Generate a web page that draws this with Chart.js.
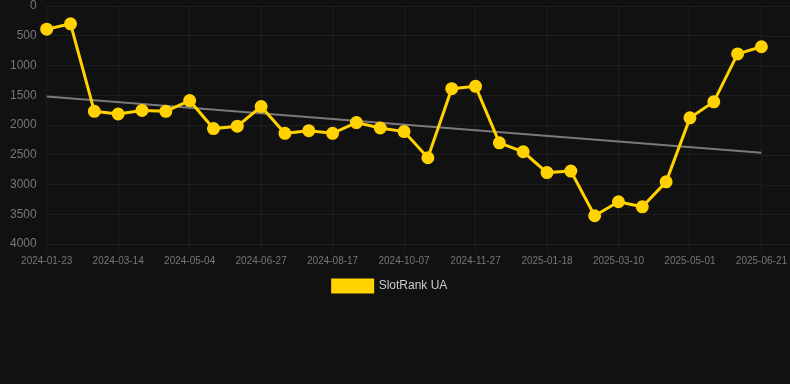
<!DOCTYPE html>
<html>
<head>
<meta charset="utf-8">
<script src="https://cdn.jsdelivr.net/npm/chart.js@4"></script>
<style>
  html, body { margin: 0; padding: 0; background: #111111; }
  #wrap { width: 790px; height: 302px; position: relative; }
</style>
</head>
<body>
<div id="wrap"><canvas id="c"></canvas></div>
<script>
const dates = [
  "2024-01-23","2024-02-09","2024-02-26","2024-03-14","2024-03-31","2024-04-17",
  "2024-05-04","2024-05-22","2024-06-09","2024-06-27","2024-07-14","2024-07-31",
  "2024-08-17","2024-09-03","2024-09-20","2024-10-07","2024-10-24","2024-11-10",
  "2024-11-27","2024-12-14","2024-12-31","2025-01-18","2025-02-04","2025-02-21",
  "2025-03-10","2025-03-27","2025-04-14","2025-05-01","2025-05-18","2025-06-04",
  "2025-06-21"
];
const rankUA = [
  390, 300, 1770, 1815, 1755, 1770, 1590, 2060, 2020, 1690, 2140, 2095,
  2140, 1960, 2050, 2110, 2550, 1390, 1350, 2300, 2450, 2800, 2775, 3525,
  3290, 3375, 2955, 1880, 1610, 805, 685
];
const trendStart = 1520;
const trendEnd = 2465;
const trend = dates.map((d, i) => i === 0 ? trendStart : (i === dates.length - 1 ? trendEnd : null));
const yTicks = [0, 500, 1000, 1500, 2000, 2500, 3000, 3500, 4000];

const GRID = 'rgba(255,255,255,0.05)';

const gridExtend = {
  id: 'gridExtend',
  beforeDatasetsDraw(chart) {
    const { ctx, chartArea, scales } = chart;
    ctx.save();
    ctx.strokeStyle = GRID;
    ctx.lineWidth = 1;
    scales.y.ticks.forEach(t => {
      const y = Math.round(scales.y.getPixelForValue(t.value)) + 0.5;
      ctx.beginPath();
      ctx.moveTo(chartArea.right, y);
      ctx.lineTo(chart.width, y);
      ctx.stroke();
    });
    ctx.restore();
  }
};

new Chart(document.getElementById('c'), {
  type: 'line',
  data: {
    labels: dates,
    datasets: [
      {
        label: 'SlotRank UA',
        data: rankUA,
        borderColor: '#ffd200',
        backgroundColor: '#ffd200',
        borderWidth: 3,
        pointRadius: 5,
        pointHoverRadius: 6,
        pointBackgroundColor: '#ffd200',
        pointBorderColor: '#ffd200',
        tension: 0,
        clip: false,
        order: 1
      },
      {
        label: 'trend',
        data: trend,
        spanGaps: true,
        borderColor: '#7a7a7a',
        backgroundColor: '#7a7a7a',
        borderWidth: 2,
        pointRadius: 0,
        tension: 0,
        order: 2
      }
    ]
  },
  plugins: [gridExtend],
  options: {
    responsive: true,
    maintainAspectRatio: false,
    animation: false,
    layout: { autoPadding: false, padding: { left: 0, top: 0, bottom: 0, right: 10 } },
    plugins: {
      legend: {
        position: 'bottom',
        labels: {
          color: '#cccccc',
          font: { family: 'Arial, "Liberation Sans", sans-serif', size: 12 },
          boxWidth: 40,
          boxHeight: 12,
          padding: 10,
          filter: (item) => item.text !== 'trend'
        }
      },
      tooltip: { enabled: false }
    },
    scales: {
      x: {
        grid: { color: GRID, drawTicks: true, tickLength: 8 },
        border: { display: false },
        ticks: {
          color: '#777777',
          font: { family: 'Arial, "Liberation Sans", sans-serif', size: 10 },
          maxRotation: 0,
          autoSkip: true,
          maxTicksLimit: 11,
          padding: 3
        }
      },
      y: {
        reverse: true,
        min: 0,
        max: 4000,
        afterBuildTicks: (axis) => { axis.ticks = yTicks.map(v => ({ value: v })); },
        afterFit: (axis) => { axis.paddingTop = 6; axis.paddingBottom = 6; },
        grid: { color: GRID, drawTicks: false },
        border: { display: false },
        ticks: {
          color: '#777777',
          font: { family: 'Arial, "Liberation Sans", sans-serif', size: 12 },
          padding: 10,
          callback: (v) => String(v)
        }
      }
    }
  }
});
</script>
</body>
</html>
